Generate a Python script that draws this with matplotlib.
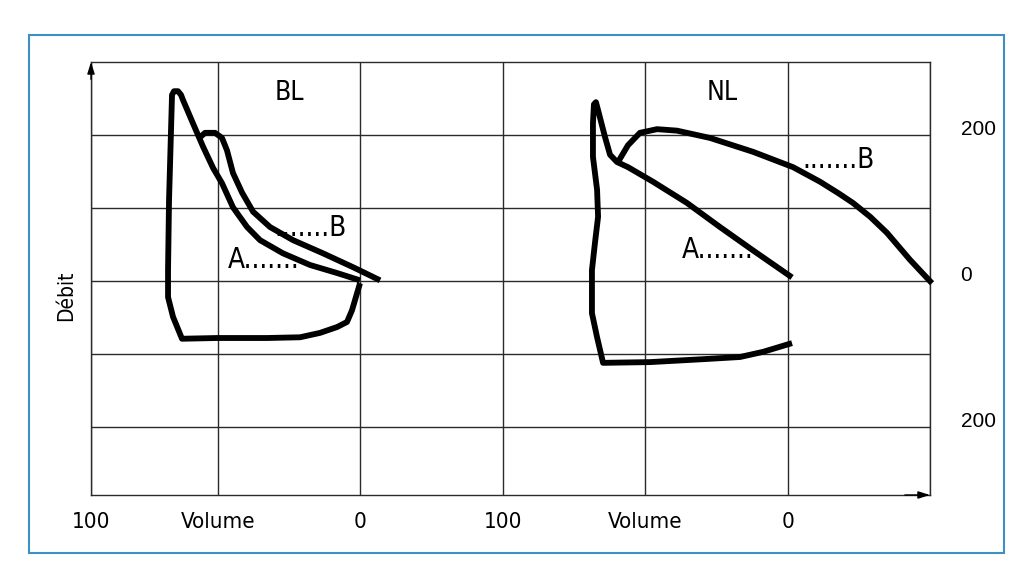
import matplotlib
matplotlib.use("Agg")
import matplotlib.pyplot as plt
from matplotlib.patches import Rectangle

# x in grid cells (vertical grid line spacing), y in flow units
# left panel: BL loop (A + inspiration) and B branch
bl_loop_x = [0.997, 0.941, 0.906, 0.836, 0.716, 0.576, 0.344, -0.007, -0.253, -0.316, -0.351, -0.351,
             -0.344, -0.330, -0.323, -0.309, -0.281, -0.260, -0.246, -0.176, -0.105, -0.035, 0.028,
             0.105, 0.204, 0.295, 0.456, 0.646, 0.836, 0.997]
bl_loop_y = [-3, -40, -56, -63, -71, -77, -78, -78, -79, -49, -22, 15,
             111, 207, 255, 260, 260, 255, 248, 216, 184, 155, 134,
             101, 74, 56, 38, 22, 11, 1]
bl_b_x = [-0.126, -0.091, -0.021, 0.028, 0.063, 0.105, 0.169, 0.246, 0.365, 0.527, 0.737, 0.948, 1.138]
bl_b_y = [197, 203, 203, 196, 179, 148, 121, 95, 74, 56, 38, 19, 1]

# right panel: NL loop (A + inspiration) and B branch
nl_loop_x = [4.031, 3.827, 3.666, 3.406, 3.034, 2.704, 2.662, 2.626, 2.626, 2.647, 2.669, 2.662,
             2.633, 2.633, 2.640, 2.654, 2.669, 2.718, 2.753, 2.802, 2.879, 3.055, 3.293,
             3.525, 3.757, 4.031]
nl_loop_y = [-85, -97, -104, -107, -111, -112, -77, -44, 15, 52, 88, 125,
             170, 216, 242, 245, 234, 197, 173, 163, 156, 136, 107,
             74, 42, 5]
nl_b_x = [2.809, 2.879, 2.963, 3.083, 3.223, 3.455, 3.757, 4.038, 4.228, 4.359, 4.459, 4.580, 4.698, 4.860, 5.014]
nl_b_y = [163, 186, 203, 208, 206, 196, 177, 156, 136, 120, 107, 88, 66, 29, -3]

x_ticks = [-0.892, 0, 1, 2, 3, 4, 5]
x_labels = ["100", "Volume", "0", "100", "Volume", "0", ""]
y_ticks = [-200, -100, 0, 100, 200]
y_labels = ["200", "", "0", "", "200"]

narrow = dict(family="DejaVu Sans", stretch="condensed")
plain = dict(family="Liberation Sans")

fig = plt.figure(figsize=(10.3, 5.78), dpi=100)
ax = fig.add_axes([91 / 1030, 1 - 495 / 578, 839 / 1030, 433 / 578])

# cadre bleu
fig.patches.append(Rectangle((29 / 1030, 1 - 553 / 578), 975 / 1030, 518 / 578,
                             transform=fig.transFigure, fill=False, edgecolor="#3d8fc6", lw=1.5))

grid_col = "#2a2a2a"
ax.set_xlim(-0.892, 5)
ax.set_ylim(-293, 300)
ax.set_xticks(x_ticks)
ax.set_xticklabels(x_labels, fontsize=16, **narrow)
ax.set_yticks(y_ticks)
ax.set_yticklabels(y_labels, fontsize=15, ha="left", va="baseline", **plain)
ax.yaxis.tick_right()
ax.tick_params(length=0)
ax.tick_params(axis="x", pad=12)
ax.tick_params(axis="y", pad=22)
ax.grid(True, color=grid_col, lw=1.0)
for spine in ax.spines.values():
    spine.set_color(grid_col)
    spine.set_linewidth(1.0)

ax.text(-0.030, 0.46, "Débit", fontsize=15, rotation=90, ha="center", va="center",
        transform=ax.transAxes, **narrow)

# flèches des axes
ax.annotate("", xy=(0, 1.0), xytext=(0, 0.96), xycoords="axes fraction",
            arrowprops=dict(arrowstyle="-|>,head_length=0.7,head_width=0.22", color="black", lw=1, shrinkA=0, shrinkB=0))
ax.annotate("", xy=(1.0, 0), xytext=(0.97, 0), xycoords="axes fraction",
            arrowprops=dict(arrowstyle="-|>,head_length=0.7,head_width=0.22", color="black", lw=1, shrinkA=0, shrinkB=0))

lw = 4.2
for xs, ys in [(bl_loop_x, bl_loop_y), (bl_b_x, bl_b_y), (nl_loop_x, nl_loop_y), (nl_b_x, nl_b_y)]:
    ax.plot(xs, ys, color="black", lw=lw, solid_joinstyle="round", solid_capstyle="butt", clip_on=False, zorder=3)

ax.text(0.499, 258, "BL", fontsize=19, ha="center", va="center", **narrow)
ax.text(3.539, 258, "NL", fontsize=19, ha="center", va="center", **narrow)
ax.text(0.906, 73, ".......B", fontsize=20, ha="right", va="center", **narrow)
ax.text(0.070, 29, "A.......", fontsize=20, ha="left", va="center", **narrow)
ax.text(4.614, 166, ".......B", fontsize=20, ha="right", va="center", **narrow)
ax.text(3.258, 42, "A.......", fontsize=20, ha="left", va="center", **narrow)

fig.savefig("out.png", dpi=100)
